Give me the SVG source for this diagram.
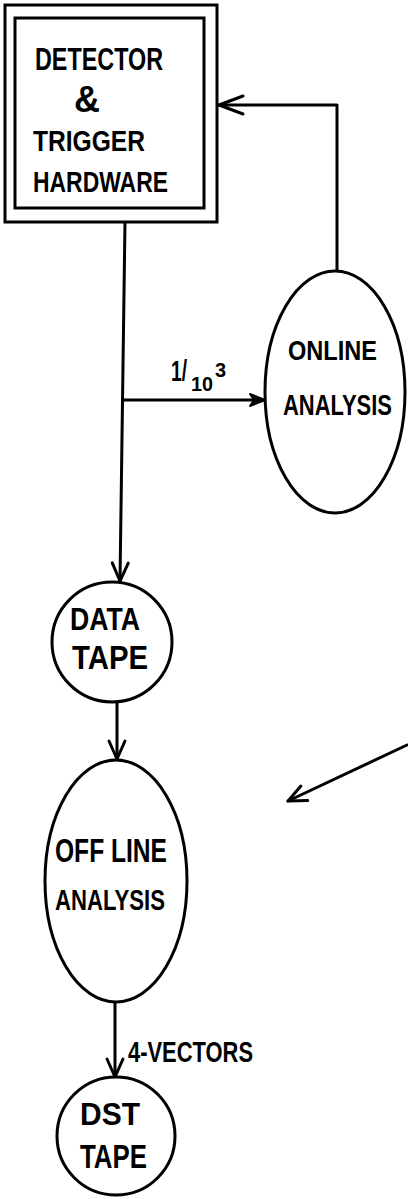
<svg xmlns="http://www.w3.org/2000/svg" width="408" height="1199" viewBox="0 0 408 1199">
  <style>
    .ln { fill: none; stroke: #000; stroke-width: 3; stroke-linecap: round; stroke-linejoin: round; }
    .shape { fill: #fff; stroke: #000; stroke-width: 3; }
    .lbl { font-family: "Liberation Sans", Arial, sans-serif; font-weight: bold; fill: #000; }
  </style>
  <defs>
    <marker id="open" markerUnits="userSpaceOnUse" viewBox="-22 -12 26 24" refX="0" refY="0" markerWidth="26" markerHeight="24" orient="auto">
      <path d="M-18,-8 L0,0 L-18,8" fill="none" stroke="#000" stroke-width="3" stroke-linecap="round" stroke-linejoin="round"/>
    </marker>
    <marker id="wide" markerUnits="userSpaceOnUse" viewBox="-28 -12 32 24" refX="0" refY="0" markerWidth="32" markerHeight="24" orient="auto">
      <path d="M-24,-9 L0,0 L-24,9" fill="none" stroke="#000" stroke-width="3" stroke-linecap="round" stroke-linejoin="round"/>
    </marker>
    <marker id="solid" markerUnits="userSpaceOnUse" viewBox="-18 -10 22 20" refX="0" refY="0" markerWidth="22" markerHeight="20" orient="auto">
      <path d="M-15,-6 L0,0 L-15,6 L-11,0 Z" fill="#000" stroke="#000" stroke-width="2" stroke-linejoin="round"/>
    </marker>
  </defs>

  <!-- connectors -->
  <g id="connectors">
    <!-- hardware down to data tape -->
    <path class="ln" d="M125,222 L120,581" marker-end="url(#open)"/>
    <!-- sampled branch to online analysis -->
    <path class="ln" d="M123,400 L265,400" marker-end="url(#solid)"/>
    <!-- feedback from online analysis to hardware -->
    <path class="ln" d="M337,272 L337,105 L219,105" marker-end="url(#wide)"/>
    <!-- data tape to offline analysis -->
    <path class="ln" d="M117,702 L117,759" marker-end="url(#open)"/>
    <!-- offline analysis to DST tape -->
    <path class="ln" d="M115,1003 L115,1077" marker-end="url(#open)"/>
    <!-- free-standing pointer -->
    <path class="ln" d="M407,745 L288,801" marker-end="url(#open)"/>
    <!-- sampling fraction 1/10^3 -->
    <text class="lbl" font-size="30"><tspan x="171" y="381" textLength="16" lengthAdjust="spacingAndGlyphs">1/</tspan><tspan x="191" y="391" font-size="21" textLength="22" lengthAdjust="spacingAndGlyphs">10</tspan><tspan x="215" y="377" font-size="20">3</tspan></text>
    <text class="lbl" x="128" y="1062" font-size="29" textLength="125" lengthAdjust="spacingAndGlyphs">4-VECTORS</text>
  </g>

  <!-- detector and trigger hardware -->
  <g id="hardware">
    <rect class="shape" x="5" y="5" width="212" height="217"/>
    <rect class="shape" x="15" y="18" width="189" height="190"/>
    <text class="lbl" x="35" y="70" font-size="32" textLength="128" lengthAdjust="spacingAndGlyphs">DETECTOR</text>
    <text class="lbl" x="87" y="112" font-size="36" text-anchor="middle">&amp;</text>
    <text class="lbl" x="33" y="151" font-size="29" textLength="112" lengthAdjust="spacingAndGlyphs">TRIGGER</text>
    <text class="lbl" x="33" y="192" font-size="29" textLength="135" lengthAdjust="spacingAndGlyphs">HARDWARE</text>
  </g>

  <!-- online analysis -->
  <g id="online">
    <ellipse class="shape" cx="335" cy="392" rx="70" ry="121"/>
    <text class="lbl" x="288" y="360" font-size="28" textLength="89" lengthAdjust="spacingAndGlyphs">ONLINE</text>
    <text class="lbl" x="283" y="415" font-size="30" textLength="109" lengthAdjust="spacingAndGlyphs">ANALYSIS</text>
  </g>

  <!-- data tape -->
  <g id="data-tape">
    <circle class="shape" cx="112" cy="642" r="60"/>
    <text class="lbl" x="70" y="630" font-size="31" textLength="70" lengthAdjust="spacingAndGlyphs">DATA</text>
    <text class="lbl" x="72" y="669" font-size="33" textLength="76" lengthAdjust="spacingAndGlyphs">TAPE</text>
  </g>

  <!-- offline analysis -->
  <g id="offline">
    <ellipse class="shape" cx="116" cy="881" rx="71" ry="121"/>
    <text class="lbl" x="55" y="862" font-size="33" textLength="112" lengthAdjust="spacingAndGlyphs">OFF LINE</text>
    <text class="lbl" x="55" y="910" font-size="30" textLength="110" lengthAdjust="spacingAndGlyphs">ANALYSIS</text>
  </g>

  <!-- DST tape -->
  <g id="dst-tape">
    <circle class="shape" cx="116" cy="1136" r="59"/>
    <text class="lbl" x="80" y="1125" font-size="31" textLength="60" lengthAdjust="spacingAndGlyphs">DST</text>
    <text class="lbl" x="80" y="1168" font-size="34" textLength="67" lengthAdjust="spacingAndGlyphs">TAPE</text>
  </g>
</svg>
